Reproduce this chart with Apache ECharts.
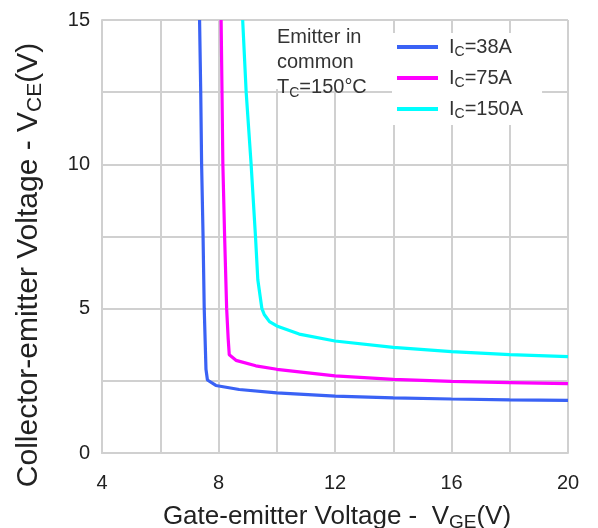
<!DOCTYPE html>
<html><head><meta charset="utf-8">
<script src="https://cdn.jsdelivr.net/npm/echarts@6/dist/echarts.min.js"></script>
<style>html,body{margin:0;padding:0;background:#fff}#c{width:598px;height:528px}</style>
</head><body><div id="c"></div>
<script>
// Data: [VGE (V), VCE (V)]
const seriesNames = ['IC=38A', 'IC=75A', 'IC=150A'];
const ic38 = [[7.35,15],[7.39,12.5],[7.42,10],[7.47,7.5],[7.51,5],[7.57,2.9],[7.62,2.53],[7.91,2.34],[8.71,2.2],[10,2.08],[12,1.97],[14,1.91],[16,1.87],[18,1.84],[20,1.82]];
const ic75 = [[8.09,15],[8.12,12.5],[8.15,10],[8.21,7.5],[8.28,5],[8.33,4],[8.37,3.4],[8.6,3.21],[9.28,3.02],[10,2.9],[12,2.67],[14,2.55],[16,2.48],[18,2.44],[20,2.4]];
const ic150 = [[8.83,15],[8.95,12.5],[9.12,10],[9.27,7.5],[9.35,6],[9.49,5],[9.57,4.8],[9.75,4.55],[10,4.4],[10.77,4.12],[12,3.88],[14,3.66],[16,3.51],[18,3.41],[20,3.34]];
const xTickLabels = [4, 8, 12, 16, 20];
const yTickLabels = [0, 5, 10, 15];
const noteLines = ['Emitter in', 'common', 'TC=150°C'];
const xTitle = 'Gate-emitter Voltage -  VGE(V)';
const yTitle = 'Collector-emitter Voltage - VCE(V)';

const FONT = '"Liberation Sans", Arial, sans-serif';
const colors = ['#3a62f5', '#ff00ff', '#00ffff'];
const gridColor = '#d0d0d0';

function subRich(s, sub) {
  const i = s.indexOf(sub);
  return '{n|' + s.slice(0, i) + '}{s|' + sub + '}{n|' + s.slice(i + sub.length) + '}';
}

const chart = echarts.init(document.getElementById('c'), null, {renderer: 'canvas'});
const dataSets = [ic38, ic75, ic150];

chart.setOption({
  animation: false,
  backgroundColor: '#fff',
  textStyle: {fontFamily: FONT},
  grid: {left: 102, right: 30, top: 20, bottom: 75, containLabel: false},
  xAxis: {
    type: 'value', min: 4, max: 20, interval: 2,
    axisLine: {show: true, lineStyle: {color: gridColor, width: 2}},
    axisTick: {show: false},
    splitLine: {show: true, lineStyle: {color: gridColor, width: 2}},
    axisLabel: {
      margin: 20, fontSize: 20, color: '#222', fontFamily: FONT,
      formatter: v => xTickLabels.includes(v) ? String(v) : ''
    }
  },
  yAxis: {
    type: 'value', min: 0, max: 15, interval: 2.5,
    axisLine: {show: true, lineStyle: {color: gridColor, width: 2}},
    axisTick: {show: false},
    splitLine: {show: true, lineStyle: {color: gridColor, width: 2}},
    axisLabel: {
      margin: 12, fontSize: 20, color: '#222', fontFamily: FONT,
      formatter: v => yTickLabels.includes(v) ? String(v) : ''
    }
  },
  legend: {
    orient: 'vertical',
    left: 392, top: 33,
    backgroundColor: '#fff',
    padding: [4, 19, 4, 5],
    icon: 'rect',
    itemWidth: 41, itemHeight: 4, itemGap: 9,
    data: seriesNames,
    formatter: name => subRich(name, 'C'),
    textStyle: {
      padding: [0, 0, 0, 6],
      rich: {
        n: {fontSize: 20, lineHeight: 24, color: '#333', fontFamily: FONT},
        s: {fontSize: 14, lineHeight: 24, verticalAlign: 'bottom', color: '#333', fontFamily: FONT}
      }
    }
  },
  series: seriesNames.map((name, i) => ({
    name: name,
    type: 'line',
    data: dataSets[i],
    showSymbol: false,
    symbol: 'none',
    smooth: false,
    lineStyle: {color: colors[i], width: 3.2},
    itemStyle: {color: colors[i]},
    z: 3
  })),
  graphic: [
    {type: 'rect', z: 1, shape: {x: 270, y: 21, width: 104, height: 68}, style: {fill: '#fff'}},
    {
      type: 'text', z: 5, x: 277, y: 25,
      style: {
        text: '{n|' + noteLines[0] + '}\n{n|' + noteLines[1] + '}\n' + subRich(noteLines[2], 'C'),
        fill: '#333',
        rich: {
          n: {fontSize: 20, lineHeight: 25, fill: '#333', fontFamily: FONT},
          s: {fontSize: 14, lineHeight: 25, verticalAlign: 'bottom', fill: '#333', fontFamily: FONT}
        }
      }
    },
    {
      type: 'text', z: 5, x: 337, y: 517,
      style: {
        text: subRich(xTitle, 'GE'),
        align: 'center', verticalAlign: 'middle',
        fill: '#222',
        rich: {
          n: {fontSize: 26, lineHeight: 30, fill: '#222', fontFamily: FONT},
          s: {fontSize: 19, lineHeight: 30, verticalAlign: 'bottom', fill: '#222', fontFamily: FONT}
        }
      }
    },
    {
      type: 'text', z: 5, x: 29, y: 265, rotation: Math.PI / 2,
      style: {
        text: subRich(yTitle, 'CE'),
        align: 'center', verticalAlign: 'middle',
        fill: '#222',
        rich: {
          n: {fontSize: 30, lineHeight: 34, fill: '#222', fontFamily: FONT},
          s: {fontSize: 21, lineHeight: 34, verticalAlign: 'bottom', fill: '#222', fontFamily: FONT}
        }
      }
    }
  ]
});
</script>
</body></html>
